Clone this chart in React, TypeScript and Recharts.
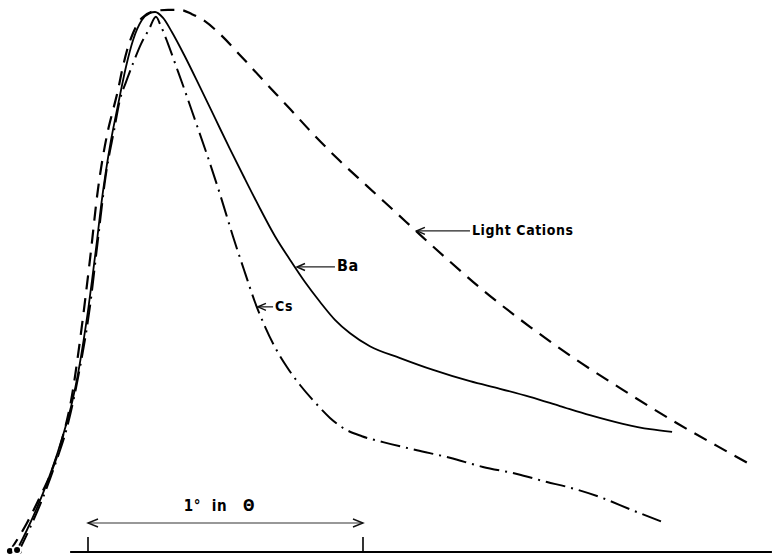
import { LineChart, Line, XAxis, YAxis, ReferenceLine } from "recharts";

// angle offset in degrees of theta (0 = left scale tick), relative intensity (peak = 1)
const baTheta = [
  -0.258, -0.222, -0.184, -0.145, -0.111, -0.082, -0.056, -0.036, -0.016, 0.002, 0.018, 0.033,
  0.047, 0.064, 0.084, 0.1, 0.118, 0.138, 0.164, 0.196, 0.225, 0.244, 0.273, 0.305, 0.353, 0.407,
  0.462, 0.516, 0.571, 0.625, 0.68, 0.735, 0.789, 0.844, 0.898, 0.953, 1.025, 1.135, 1.255, 1.389,
  1.498, 1.607, 1.716, 1.825, 1.945, 2.044, 2.124,
];
const baIntensity = [
  0.002, 0.039, 0.082, 0.132, 0.182, 0.23, 0.28, 0.33, 0.391, 0.453, 0.516, 0.577, 0.638, 0.701,
  0.763, 0.805, 0.85, 0.898, 0.948, 0.985, 0.998, 1.0, 0.989, 0.963, 0.917, 0.861, 0.803, 0.746,
  0.69, 0.636, 0.584, 0.54, 0.499, 0.462, 0.429, 0.404, 0.38, 0.358, 0.336, 0.315, 0.301, 0.286,
  0.269, 0.252, 0.236, 0.226, 0.221,
];

const lightTheta = [
  -0.284, -0.222, -0.175, -0.131, -0.095, -0.058, -0.029, 0.007, 0.036, 0.073, 0.091, 0.109, 0.124,
  0.142, 0.164, 0.196, 0.244, 0.291, 0.335, 0.378, 0.425, 0.48, 0.553, 0.636, 0.735, 0.818, 0.905,
  1.015, 1.124, 1.207, 1.316, 1.436, 1.607, 1.778, 1.945, 2.142, 2.287, 2.4,
];
const lightIntensity = [
  0, 0.052, 0.1, 0.15, 0.206, 0.289, 0.391, 0.54, 0.67, 0.781, 0.818, 0.855, 0.892, 0.929, 0.961,
  0.989, 1.002, 1.004, 1.004, 0.996, 0.983, 0.959, 0.92, 0.874, 0.82, 0.774, 0.729, 0.677, 0.626,
  0.587, 0.537, 0.484, 0.416, 0.354, 0.299, 0.237, 0.195, 0.163,
];

const csTheta = [
  -0.251, -0.211, -0.167, -0.12, -0.076, -0.033, 0.007, 0.036, 0.065, 0.095, 0.116, 0.138, 0.164,
  0.193, 0.222, 0.247, 0.265, 0.291, 0.32, 0.353, 0.389, 0.433, 0.48, 0.527, 0.571, 0.607, 0.644,
  0.68, 0.724, 0.771, 0.825, 0.88, 0.935, 0.996, 1.073, 1.196, 1.316, 1.436, 1.56, 1.669, 1.742,
  1.862, 1.978, 2.098,
];
const csIntensity = [
  0, 0.043, 0.095, 0.16, 0.23, 0.33, 0.453, 0.577, 0.698, 0.781, 0.837, 0.87, 0.905, 0.941, 0.968,
  0.991, 0.974, 0.941, 0.9, 0.853, 0.8, 0.735, 0.662, 0.584, 0.516, 0.462, 0.416, 0.378, 0.341,
  0.308, 0.276, 0.247, 0.226, 0.213, 0.202, 0.187, 0.173, 0.156, 0.143, 0.128, 0.119, 0.1, 0.076,
  0.052,
];

// pointer labels: text, tip on curve (theta, intensity), tail theta
const pointerText = ["Light Cations", "Ba", "Cs"];
const pointerTipTheta = [1.196, 0.76, 0.618];
const pointerTipIntensity = [0.594, 0.527, 0.453];
const pointerTailTheta = [1.389, 0.898, 0.673];
const pointerFontSize = [14, 16, 14];

const scaleTicks = [0, 1];
const scaleLabel = "1°  in   Θ";

const zip = (t: number[], v: number[]) => t.map((x, i) => ({ t: x, v: v[i] }));
const baData = zip(baTheta, baIntensity);
const lightData = zip(lightTheta, lightIntensity);
const csData = zip(csTheta, csIntensity);

const FONT = "'DejaVu Sans Condensed', 'Liberation Sans Narrow', sans-serif";

const Pointer = (p: any) => {
  const { x1, y1, x2, y2, text, fontSize } = p;
  return (
    <g>
      <line x1={x1} y1={y1} x2={x2} y2={y2} stroke="#222" strokeWidth={1.3} />
      <polyline
        points={`${x1 + 8},${y1 - 3.5} ${x1},${y1} ${x1 + 8},${y1 + 3.5}`}
        fill="none"
        stroke="#111"
        strokeWidth={1.5}
      />
      <text
        x={x2 + 2}
        y={y2 + 4}
        fontFamily={FONT}
        fontSize={fontSize}
        fontWeight={600}
        letterSpacing={0.6}
        fill="#000"
      >
        {text}
      </text>
    </g>
  );
};

const ScaleBar = (p: any) => {
  const { x1, y1, x2, y2 } = p;
  return (
    <g>
      <line x1={x1} y1={y1} x2={x2} y2={y2} stroke="#333" strokeWidth={1.2} />
      <polyline
        points={`${x1 + 10},${y1 - 4} ${x1},${y1} ${x1 + 10},${y1 + 4}`}
        fill="none"
        stroke="#111"
        strokeWidth={1.4}
      />
      <polyline
        points={`${x2 - 10},${y2 - 4} ${x2},${y2} ${x2 - 10},${y2 + 4}`}
        fill="none"
        stroke="#111"
        strokeWidth={1.4}
      />
      <text
        x={(x1 + x2) / 2 - 6}
        y={y1 - 12}
        textAnchor="middle"
        fontFamily={FONT}
        fontSize={15}
        fontWeight={600}
        letterSpacing={0.6}
        style={{ whiteSpace: "pre" }}
        fill="#000"
      >
        {scaleLabel}
      </text>
    </g>
  );
};

export default function App() {
  return (
    <div style={{ position: "absolute", left: 0, top: 0, width: 772, height: 555, background: "#fff" }}>
      <LineChart width={772} height={555} margin={{ top: 0, right: 0, bottom: 0, left: 0 }}>
        <XAxis type="number" dataKey="t" domain={[-0.32, 2.4873]} allowDataOverflow hide />
        <YAxis type="number" dataKey="v" domain={[-0.0074, 1.0223]} allowDataOverflow hide />

        {/* baseline and scale ticks */}
        <ReferenceLine
          segment={[{ x: -0.065, y: -0.002 }, { x: 2.487, y: -0.002 }]}
          stroke="#000"
          strokeWidth={2}
        />
        {scaleTicks.map((t) => (
          <ReferenceLine
            key={t}
            segment={[{ x: t, y: -0.002 }, { x: t, y: 0.026 }]}
            stroke="#000"
            strokeWidth={1.6}
          />
        ))}
        <ReferenceLine
          segment={[{ x: scaleTicks[0], y: 0.052 }, { x: scaleTicks[1], y: 0.052 }]}
          shape={(p: any) => <ScaleBar {...p} />}
        />

        <Line
          data={lightData}
          dataKey="v"
          type="monotone"
          stroke="#000"
          strokeWidth={2.2}
          strokeDasharray="14 9"
          dot={false}
          isAnimationActive={false}
        />
        <Line
          data={csData}
          dataKey="v"
          type="monotone"
          stroke="#000"
          strokeWidth={2}
          strokeDasharray="20 6 2 6"
          dot={false}
          isAnimationActive={false}
        />
        <Line
          data={baData}
          dataKey="v"
          type="monotone"
          stroke="#000"
          strokeWidth={1.8}
          dot={false}
          isAnimationActive={false}
        />

        {pointerText.map((text, i) => (
          <ReferenceLine
            key={text}
            segment={[
              { x: pointerTipTheta[i], y: pointerTipIntensity[i] },
              { x: pointerTailTheta[i], y: pointerTipIntensity[i] },
            ]}
            shape={(p: any) => <Pointer {...p} text={text} fontSize={pointerFontSize[i]} />}
          />
        ))}
      </LineChart>
    </div>
  );
}
